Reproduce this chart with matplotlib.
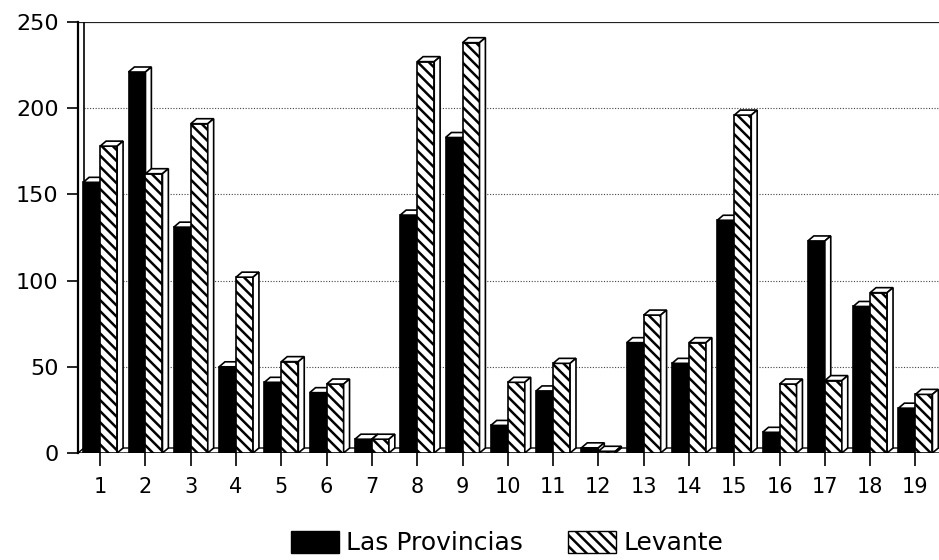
import matplotlib
matplotlib.use("Agg")
import matplotlib.pyplot as plt
from matplotlib.patches import Polygon, Patch
import numpy as np

categories = [str(i) for i in range(1, 20)]
las_provincias = [157, 221, 131, 50, 41, 35, 8, 138, 183, 16, 36, 3, 64, 52, 135, 12, 123, 85, 26]
levante = [178, 162, 191, 102, 53, 40, 8, 227, 238, 41, 52, 1, 80, 64, 196, 40, 42, 93, 34]
yticks = [0, 50, 100, 150, 200, 250]

plt.rcParams['font.family'] = ['DejaVu Sans']
plt.rcParams['hatch.linewidth'] = 1.8

W, H = 939, 560
fig = plt.figure(figsize=(W / 100, H / 100), dpi=100)
x0_px, x1_px = 78, 939
y0_px, y1_px = 453, 22
ax = fig.add_axes([x0_px / W, 1 - y0_px / H, (x1_px - x0_px) / W, (y0_px - y1_px) / H])

xmin, xmax = -0.49, 18.52
ax.set_xlim(xmin, xmax)
ax.set_ylim(0, 250)

w = 0.375      # bar width in category units
ddx = 0.13     # depth offset x
ddy = 2.9      # depth offset y

# gridlines
for g in yticks[1:-1]:
    ax.plot([xmin + ddx, xmax], [g, g], ls=(0, (1, 1.5)), color='#444444', lw=0.8, zorder=1)
ax.plot([xmin, xmax], [250, 250], color='#222222', lw=1.6, zorder=1)

# left wall
ax.plot([xmin + ddx, xmin + ddx], [ddy, 250], color='black', lw=1.2, zorder=2)

# floor
floor = Polygon([(xmin, 0), (xmax + 1, 0), (xmax + 1 + ddx, ddy), (xmin + ddx, ddy)],
                closed=True, facecolor='white', edgecolor='black', lw=1.0, zorder=2)
ax.add_patch(floor)

x = np.arange(len(categories))
z = 3
for i in range(len(categories)):
    for vals, off, fc, hatch in [(las_provincias, -w, 'black', None),
                                  (levante, 0.0, 'white', '\\\\\\')]:
        v = vals[i]
        left = x[i] + off
        ax.bar(left, v, width=w, align='edge', facecolor=fc, edgecolor='black',
               hatch=hatch, lw=1.2, zorder=z)
        top = Polygon([(left, v), (left + w, v), (left + w + ddx, v + ddy), (left + ddx, v + ddy)],
                      closed=True, facecolor='white', edgecolor='black', lw=1.2, zorder=z)
        side = Polygon([(left + w, 0), (left + w + ddx, ddy), (left + w + ddx, v + ddy), (left + w, v)],
                       closed=True, facecolor='white', edgecolor='black', lw=1.2, zorder=z)
        ax.add_patch(top)
        ax.add_patch(side)
        z += 1

ax.set_xticks(x)
ax.set_xticklabels(categories, fontsize=15)
ax.set_yticks(yticks)
ax.set_yticklabels([str(t) for t in yticks], fontsize=16)
ax.tick_params(axis='x', length=9, width=1.2, pad=8, direction='out')
ax.tick_params(axis='y', length=8, width=1.2, pad=6, direction='out')

for s in ['right', 'bottom', 'top']:
    ax.spines[s].set_visible(False)
ax.spines['left'].set_linewidth(1.6)

handles = [Patch(facecolor='black', edgecolor='black'),
           Patch(facecolor='white', edgecolor='black', hatch='\\\\\\')]
fig.legend(handles, ['Las Provincias', 'Levante'], loc='center',
           bbox_to_anchor=(507 / W, 1 - 543 / H), ncol=2, frameon=False,
           fontsize=18, handlelength=1.9, handleheight=1.0, handletextpad=0.3,
           columnspacing=1.8)

fig.savefig('out.png', dpi=100)
